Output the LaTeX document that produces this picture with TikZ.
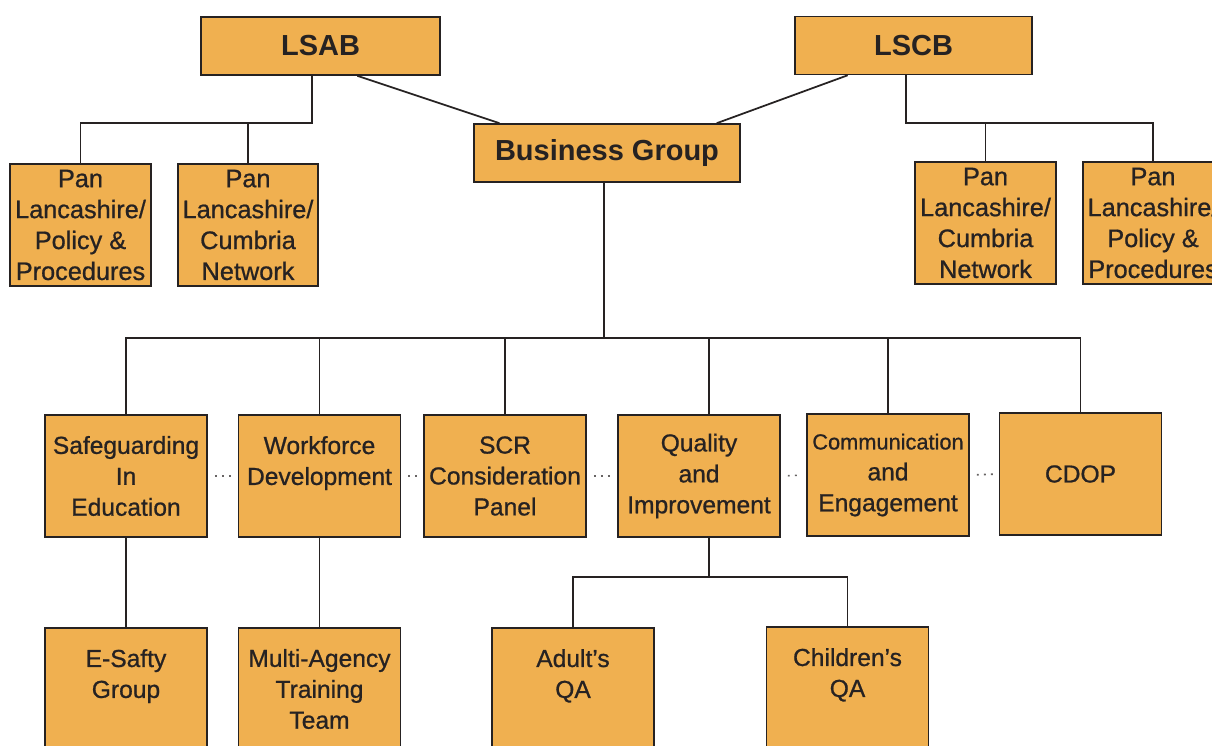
\documentclass[tikz,border=0pt]{standalone}
\usepackage{fontspec}
\setmainfont{Liberation Sans}
\newfontfamily\boxfont[FakeBold=0.8]{Liberation Sans}
\usetikzlibrary{calc}
\definecolor{boxfill}{RGB}{240,176,80}
\definecolor{ink}{RGB}{38,34,34}
\begin{document}
\begin{tikzpicture}[x=0.02cm,y=-0.02cm,
  box/.style={draw=ink, fill=boxfill, line width=0.9pt, align=center, inner sep=0pt,
              text=ink, font=\boxfont\fontsize{14}{17.6}\selectfont},
  headbox/.style={box, minimum height=1.16cm, font=\fontsize{16.5}{20}\selectfont\bfseries},
  panbox/.style={box, minimum width=2.8cm, minimum height=2.44cm,
              font=\boxfont\fontsize{14.4}{17.6}\selectfont},
  unitbox/.style={box, minimum width=3.24cm, minimum height=2.44cm},
  link/.style={draw=ink, line width=1pt},
  dots/.style={draw=ink!70, line width=0.9pt, dash pattern=on 1.1pt off 2.9pt, shorten <=4pt, shorten >=3pt}]
\useasboundingbox (0,0) rectangle (1212,746);
\clip (0,0) rectangle (1212,746);

% top level boards and the business group
\node[headbox, minimum width=4.78cm] (lsab) at (320.5,46) {LSAB};
\node[headbox, minimum width=4.74cm] (lscb) at (913.5,45.5) {LSCB};
\node[headbox, minimum width=5.32cm] (bg) at (607,153) {Business Group};

% pan-Lancashire groups
\node[panbox, minimum width=2.82cm] (pl1) at (80.5,225) {Pan\\Lancashire/\\Policy \&\\Procedures};
\node[panbox] (pl2) at (248,225) {Pan\\Lancashire/\\Cumbria\\Network};
\node[panbox, minimum width=2.82cm] (pr1) at (985.5,223) {Pan\\Lancashire/\\Cumbria\\Network};
\node[panbox] (pr2) at (1153,223) {Pan\\Lancashire/\\Policy \&\\Procedures};

% subgroups
\node[unitbox] (se) at (126,476) {Safeguarding\\In\\Education};
\node[unitbox] (wd) at (319.5,476) {Workforce\\Development\\\mbox{}};
\node[unitbox] (scr) at (505,476) {SCR\\Consideration\\Panel};
\node[unitbox] (qi) at (699,476) {Quality\\and\\Improvement};
\node[unitbox] (ce) at (888,475) {{\fontsize{12.4}{17.6}\selectfont Communication}\\and\\Engagement};
\node[unitbox] (cdop) at (1080.5,474) {CDOP};

% task groups
\node[unitbox] (esg) at (126,689) {E-Safty\\Group\\\mbox{}};
\node[unitbox] (mat) at (319.5,689) {Multi-Agency\\Training\\Team};
\node[unitbox] (aqa) at (573,689) {Adult’s\\QA\\\mbox{}};
\node[unitbox] (cqa) at (847.5,688) {Children’s\\QA\\\mbox{}};

% junction points
\coordinate (jl) at (312,123);
\coordinate (jr) at (906,123);
\coordinate (jb) at (604,338);
\coordinate (qt) at (709,338);
\coordinate (jq) at (709,577);

% links from the boards
\draw[link] (lsab.south -| jl) -- (jl) -- (jl -| pl1.north) -- (pl1.north);
\draw[link] (pl2.north) -- (pl2.north |- jl);
\draw[link] (lscb.south -| jr) -- (jr) -| (pr2.north);
\draw[link] (pr1.north) -- (pr1.north |- jr);
\draw[link] ($(lsab.south west)!0.653!(lsab.south east)$) -- ($(bg.north west)!0.098!(bg.north east)$);
\draw[link] ($(lscb.south west)!0.224!(lscb.south east)$) -- ($(bg.north west)!0.91!(bg.north east)$);

% business group to subgroups
\draw[link] (bg.south -| jb) -- (jb);
\draw[link] (se.north) |- (jb) -| (cdop.north);
\draw[link] (wd.north) -- (wd.north |- jb);
\draw[link] (scr.north) -- (scr.north |- jb);
\draw[link] (qt) -- (qt |- qi.north);
\draw[link] (ce.north) -- (ce.north |- jb);

% subgroups to task groups
\draw[link] (se.south) -- (esg.north);
\draw[link] (wd.south) -- (mat.north);
\draw[link] (jq |- qi.south) -- (jq);
\draw[link] (aqa.north) |- (jq) -| (cqa.north);

% dotted ties between subgroups
\draw[dots] (se.east) -- (wd.west);
\draw[dots] (wd.east) -- (scr.west);
\draw[dots] (scr.east) -- (qi.west);
\draw[dots] (qi.east) -- (ce.west);
\draw[dots] (ce.east) -- (cdop.west);
\end{tikzpicture}
\end{document}
